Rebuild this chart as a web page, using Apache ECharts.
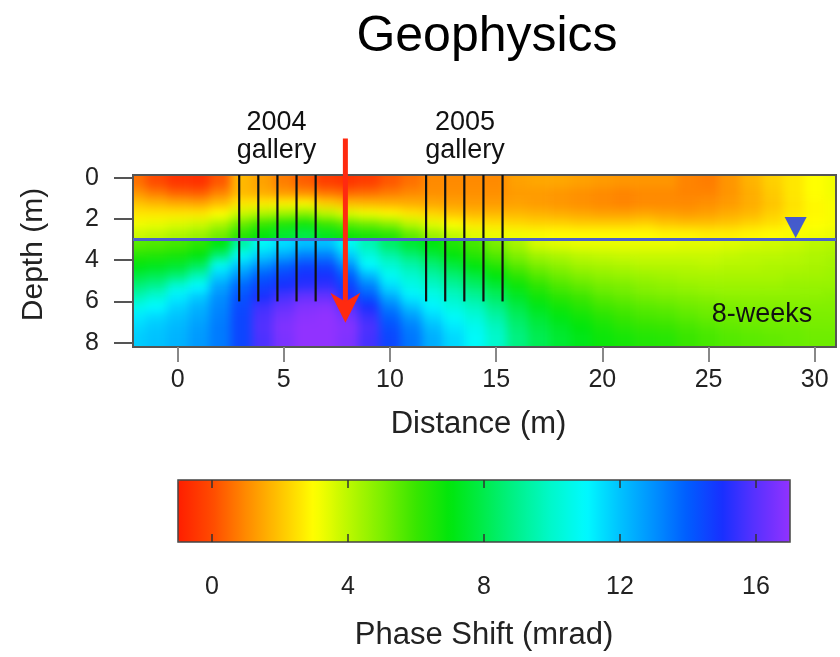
<!DOCTYPE html>
<html>
<head>
<meta charset="utf-8">
<script src="https://cdn.jsdelivr.net/npm/echarts@6.0.0/dist/echarts.min.js"></script>
<style>
html,body{margin:0;padding:0;background:#fff;}
#wrap{position:relative;width:840px;height:657px;background:#fff;overflow:hidden;}
.clip{position:absolute;overflow:hidden;}
.heat{position:absolute;filter:blur(5px);}
#main{position:absolute;left:0;top:0;width:840px;height:657px;}
</style>
</head>
<body>
<div id="wrap">
  <div class="clip" id="clipTop"><div class="heat" id="heatTop"></div></div>
  <div class="clip" id="clipBot"><div class="heat" id="heatBot"></div></div>
  <div id="main"></div>
</div>
<script>
// ---------------- data ----------------
const distance = [-2,-1,0,1,2,3,4,5,6,7,8,9,10,11,12,13,14,15,16,17,18,19,20,21,22,23,24,25,26,27,28,29,30,31];
const depthRows = [0.25,0.75,1.25,1.75,2.25,2.75,3.25,3.75,4.25,4.75,5.25,5.75,6.25,6.75,7.25,7.75];

const ps_0_25 = [0.6,0.0,-0.5,-0.6,0.2,1.8,1.4,0.8,0.3,-0.3,-0.5,-0.3,0.2,0.6,1.0,1.0,1.0,1.0,1.4,1.5,1.5,1.4,1.3,1.2,1.2,1.2,0.9,0.8,1.2,1.7,2.2,2.6,3.0,3.2];
const ps_0_75 = [1.2,0.8,0.4,0.3,0.9,1.8,1.6,1.3,1.1,0.7,0.5,0.6,0.8,1.0,1.1,1.1,1.1,1.1,1.3,1.3,1.2,1.1,1.0,0.9,1.0,1.0,0.9,0.9,1.2,1.6,2.1,2.6,3.0,3.2];
const ps_1_25 = [2.0,1.8,1.6,1.5,1.9,2.6,2.7,2.8,2.9,2.2,1.9,1.8,1.7,1.6,1.5,1.4,1.3,1.3,1.4,1.3,1.2,1.1,1.0,0.9,1.0,1.0,1.0,1.1,1.3,1.6,2.0,2.5,2.9,3.1];
const ps_1_75 = [2.6,2.6,2.6,2.6,3.0,3.8,4.2,4.5,4.8,4.0,3.5,3.2,2.9,2.6,2.3,2.0,1.8,1.8,1.8,1.7,1.6,1.5,1.4,1.4,1.5,1.4,1.3,1.4,1.6,1.8,2.2,2.6,2.9,3.1];
const ps_2_25 = [3.2,3.3,3.5,3.7,4.2,5.3,6.0,6.5,6.8,6.0,5.5,5.2,4.8,4.0,3.4,3.0,2.6,2.5,2.4,2.3,2.3,2.2,2.2,2.2,2.3,2.1,2.0,2.0,2.1,2.3,2.5,2.8,3.0,3.1];
const ps_2_75 = [3.8,4.0,4.3,4.6,5.2,6.3,7.0,7.6,8.0,7.3,6.8,6.6,6.4,5.5,4.6,4.0,3.5,3.3,3.2,3.1,3.0,3.0,3.0,3.0,3.0,2.9,2.9,2.8,2.8,2.9,3.0,3.1,3.2,3.3];
const ps_3_25 = [5.5,5.6,5.8,6.2,7.0,9.3,10.8,11.5,12.0,12.0,10.8,9.6,8.4,7.6,7.0,6.4,5.8,5.0,4.3,3.6,3.4,3.3,3.3,3.3,3.3,3.3,3.4,3.4,3.5,3.6,3.7,3.8,4.0,4.1];
const ps_3_75 = [6.3,6.4,6.6,7.0,8.6,10.8,11.8,12.5,13.3,13.3,11.8,10.4,9.4,8.6,7.8,7.0,6.3,5.6,4.9,4.4,4.2,4.0,3.9,3.8,3.8,3.8,3.8,3.8,3.9,4.0,4.0,4.1,4.2,4.3];
const ps_4_25 = [7.0,7.2,7.5,8.2,10.8,12.0,13.0,13.8,14.5,14.4,13.0,11.0,10.2,9.5,8.7,7.8,7.0,6.3,5.5,5.0,4.7,4.4,4.3,4.2,4.1,4.1,4.1,4.0,4.1,4.1,4.2,4.2,4.3,4.4];
const ps_4_75 = [7.8,8.1,8.6,9.7,11.8,13.0,14.0,14.6,15.0,15.0,14.0,12.2,10.8,10.1,9.4,8.6,7.8,7.0,6.2,5.6,5.2,4.9,4.7,4.6,4.5,4.4,4.3,4.3,4.3,4.3,4.3,4.4,4.4,4.5];
const ps_5_25 = [8.7,9.1,10.3,11.0,12.6,13.8,14.6,15.0,15.3,15.4,14.6,13.3,11.5,10.6,10.0,9.3,8.5,7.7,6.8,6.2,5.7,5.4,5.1,5.0,4.8,4.7,4.6,4.5,4.5,4.5,4.5,4.6,4.6,4.6];
const ps_5_75 = [9.6,10.2,11.2,11.8,13.0,14.2,15.0,15.7,16.2,16.2,15.1,14.1,12.4,11.2,10.6,9.9,9.2,8.3,7.4,6.7,6.2,5.9,5.5,5.3,5.1,5.0,4.9,4.8,4.7,4.7,4.7,4.7,4.7,4.8];
const ps_6_25 = [10.6,11.0,11.7,12.3,13.2,14.4,15.6,16.2,16.7,16.8,16.0,15.0,13.3,12.0,11.1,10.4,9.8,8.9,7.9,7.2,6.7,6.3,5.9,5.7,5.5,5.4,5.2,5.1,5.0,4.9,4.9,4.9,4.9,4.9];
const ps_6_75 = [11.3,11.6,12.0,12.5,13.3,14.5,15.8,16.5,16.9,17.0,16.5,15.5,13.9,12.8,11.6,10.9,10.3,9.4,8.3,7.6,7.1,6.7,6.3,6.0,5.8,5.7,5.5,5.3,5.2,5.1,5.1,5.0,5.0,5.0];
const ps_7_25 = [11.6,11.9,12.2,12.7,13.4,14.5,15.9,16.7,17.0,17.0,16.8,15.8,14.3,13.3,12.1,11.3,10.7,9.8,8.6,7.9,7.4,7.0,6.6,6.3,6.1,6.0,5.8,5.6,5.4,5.3,5.2,5.2,5.1,5.1];
const ps_7_75 = [11.8,12.0,12.3,12.8,13.4,14.5,15.8,16.6,17.0,17.0,16.7,15.7,14.5,13.5,12.4,11.6,10.9,10.0,8.8,8.1,7.6,7.2,6.8,6.6,6.4,6.3,6.0,5.8,5.6,5.5,5.4,5.3,5.2,5.2];
const phaseRows = [ps_0_25,ps_0_75,ps_1_25,ps_1_75,ps_2_25,ps_2_75,ps_3_25,ps_3_75,ps_4_25,ps_4_75,ps_5_25,ps_5_75,ps_6_25,ps_6_75,ps_7_25,ps_7_75];

const waterTableDepth = 3.0;
const gallery2004X = [2.9,3.8,4.7,5.6,6.5];
const gallery2005X = [11.7,12.6,13.5,14.4,15.3];
const galleryDepth = [-0.13, 6.0];      // top, bottom
const arrowX = 7.9;
const arrowDepth = [-1.9, 7.03];          // start (above plot), tip
const waterMarker = [29.1, 2.42];

const xTicks = [0,5,10,15,20,25,30];
const yTicks = [0,2,4,6,8];
const colorbarTicks = [0,4,8,12,16];
const colorRange = [-1, 17];

// ---------------- styling / geometry ----------------
const FONT = "'Liberation Sans', Arial, Helvetica, sans-serif";
const COLORS = ['#ff1e00','#ff4a00','#ff8a00','#ffc400','#ffff00','#bcf800','#7cef00','#38e600','#00e60c','#00ec4c','#00f28e','#00f8cc','#00faff','#00c2ff','#0090ff','#005cff','#1830ff','#5a31ff','#9132ff'];
const G = {left:133, top:175, width:703, height:172};
const X_MIN = -2.1, X_MAX = 31, Y_MIN = -0.13, Y_MAX = 8.21;
const PAD = 40;
const splitY = Math.round(G.top + (waterTableDepth - Y_MIN) / (Y_MAX - Y_MIN) * G.height);

function place(el, l, t, w, h){ el.style.left=l+'px'; el.style.top=t+'px'; el.style.width=w+'px'; el.style.height=h+'px'; }
place(document.getElementById('clipTop'), G.left, G.top, G.width, splitY - G.top);
place(document.getElementById('clipBot'), G.left, splitY, G.width, G.top + G.height - splitY);
place(document.getElementById('heatTop'), -PAD, -PAD, G.width + 2*PAD, G.height + 2*PAD);
place(document.getElementById('heatBot'), -PAD, -PAD - (splitY - G.top), G.width + 2*PAD, G.height + 2*PAD);

function heatLayer(id, rowFrom, rowTo){
  const chart = echarts.init(document.getElementById(id), null, {renderer:'canvas'});
  const data = [];
  for (let r = rowFrom; r < rowTo; r++) {
    for (let c = 0; c < distance.length; c++) data.push([distance[c], depthRows[r], phaseRows[r][c], c, r]);
  }
  const lastC = distance.length - 1;
  chart.setOption({
    animation:false, backgroundColor:'transparent',
    grid:{left:PAD, top:PAD, width:G.width, height:G.height, show:false, containLabel:false, outerBoundsMode:'none'},
    xAxis:{type:'value', min:X_MIN, max:X_MAX, show:false},
    yAxis:{type:'value', min:Y_MIN, max:Y_MAX, inverse:true, show:false},
    visualMap:{show:false, type:'continuous', min:colorRange[0], max:colorRange[1], dimension:2, inRange:{color:COLORS}},
    series:[{
      type:'custom', clip:false, data:data, encode:{x:0, y:1},
      renderItem:function(params, api){
        const x = api.value(0), d = api.value(1), c = api.value(3), r = api.value(4);
        const x0 = c === 0 ? x - 3 : x - 0.5;
        const x1 = c === lastC ? x + 3 : x + 0.5;
        const d0 = r === rowFrom ? d - 2.5 : d - 0.25;
        const d1 = r === rowTo - 1 ? d + 2.5 : d + 0.25;
        const p0 = api.coord([x0, d0]), p1 = api.coord([x1, d1]);
        return {type:'rect', shape:{x:Math.min(p0[0],p1[0]), y:Math.min(p0[1],p1[1]),
          width:Math.abs(p1[0]-p0[0]) + 0.6, height:Math.abs(p1[1]-p0[1]) + 0.6},
          style:{fill:api.visual('color')}};
      }
    }]
  });
}
const splitRow = depthRows.findIndex(d => d > waterTableDepth);
heatLayer('heatTop', 0, splitRow);
heatLayer('heatBot', splitRow, depthRows.length);

// ---------------- overlay: axes, annotations, colour bar ----------------
const main = echarts.init(document.getElementById('main'), null, {renderer:'canvas'});
const galleryData = gallery2004X.concat(gallery2005X).map(x => [x, galleryDepth[0], galleryDepth[1]]);

main.setOption({
  animation:false,
  backgroundColor:'transparent',
  textStyle:{fontFamily:FONT},
  title:{text:'Geophysics', left:487, top:37, textAlign:'center', textVerticalAlign:'middle', padding:0,
    textStyle:{fontSize:50, fontWeight:'normal', color:'#000', fontFamily:FONT}},
  grid:[
    {left:G.left, top:G.top, width:G.width, height:G.height, show:true, borderColor:'#555', borderWidth:2,
      backgroundColor:'transparent', containLabel:false, outerBoundsMode:'none'},
    {left:178, top:480, width:612, height:62, show:true, borderColor:'#444', borderWidth:1.5, z:10,
      backgroundColor:'transparent', containLabel:false, outerBoundsMode:'none'}
  ],
  xAxis:[
    {gridIndex:0, type:'value', min:X_MIN, max:X_MAX, position:'bottom',
      axisLine:{show:false, onZero:false}, splitLine:{show:false},
      axisTick:{show:true, inside:false, length:15, customValues:xTicks, lineStyle:{color:'#888', width:2}},
      axisLabel:{customValues:xTicks, margin:21, fontSize:25, color:'#222', fontFamily:FONT},
      name:'Distance (m)', nameLocation:'middle', nameGap:62,
      nameTextStyle:{fontSize:31, color:'#222', fontFamily:FONT, padding:[0,12,0,0]}},
    {gridIndex:1, type:'value', min:colorRange[0], max:colorRange[1], position:'bottom', z:10,
      axisLine:{show:false, onZero:false}, splitLine:{show:false},
      axisTick:{show:true, inside:true, length:8, customValues:colorbarTicks, lineStyle:{color:'#333', width:1.5}},
      axisLabel:{customValues:colorbarTicks, margin:33, fontSize:25, color:'#222', fontFamily:FONT},
      name:'Phase Shift (mrad)', nameLocation:'middle', nameGap:78,
      nameTextStyle:{fontSize:31, color:'#222', fontFamily:FONT}},
    {gridIndex:1, type:'value', min:colorRange[0], max:colorRange[1], position:'top', z:10,
      axisLine:{show:false, onZero:false}, splitLine:{show:false},
      axisTick:{show:true, inside:true, length:8, customValues:colorbarTicks, lineStyle:{color:'#333', width:1.5}},
      axisLabel:{show:false}}
  ],
  yAxis:[
    {gridIndex:0, type:'value', min:Y_MIN, max:Y_MAX, inverse:true, position:'left',
      axisLine:{show:false, onZero:false}, splitLine:{show:false},
      axisTick:{show:true, inside:false, length:19, customValues:yTicks, lineStyle:{color:'#555', width:2}},
      axisLabel:{customValues:yTicks, margin:34, fontSize:25, color:'#222', fontFamily:FONT},
      name:'Depth (m)', nameLocation:'middle', nameGap:84, nameRotate:90,
      nameTextStyle:{fontSize:30, color:'#222', fontFamily:FONT, padding:[0,0,0,13]}},
    {gridIndex:1, type:'value', min:0, max:1, show:false}
  ],
  visualMap:{type:'continuous', show:true, seriesIndex:[], min:colorRange[0], max:colorRange[1],
    orient:'horizontal', left:178, top:480, itemWidth:62, itemHeight:612, calculable:false,
    hoverLink:false, padding:0, inRange:{color:COLORS}},
  graphic:[
    {type:'text', x:276.5, y:137, style:{text:'2004\ngallery', font:'27px '+FONT, fill:'#111', align:'center', verticalAlign:'middle', lineHeight:28}},
    {type:'text', x:465, y:137, style:{text:'2005\ngallery', font:'27px '+FONT, fill:'#111', align:'center', verticalAlign:'middle', lineHeight:28}},
    {type:'text', x:762, y:315, style:{text:'8-weeks', font:'27px '+FONT, fill:'#111', align:'center', verticalAlign:'middle'}}
  ],
  series:[
    {type:'custom', name:'galleries', xAxisIndex:0, yAxisIndex:0, clip:false, data:galleryData, encode:{x:0, y:[1,2]},
      renderItem:function(params, api){
        const a = api.coord([api.value(0), api.value(1)]), b = api.coord([api.value(0), api.value(2)]);
        return {type:'line', shape:{x1:a[0], y1:a[1], x2:b[0], y2:b[1]}, style:{stroke:'#111', lineWidth:2.2}};
      }},
    {type:'custom', name:'water table', xAxisIndex:0, yAxisIndex:0, data:[[X_MIN, waterTableDepth]], encode:{x:0, y:1},
      renderItem:function(params, api){
        const y = api.coord([api.value(0), api.value(1)])[1];
        const cs = params.coordSys;
        return {type:'line', shape:{x1:cs.x, y1:y, x2:cs.x + cs.width, y2:y}, style:{stroke:'#4c62c9', lineWidth:3}};
      }},
    {type:'scatter', name:'water level', xAxisIndex:0, yAxisIndex:0, data:[waterMarker], symbol:'triangle',
      symbolRotate:180, symbolSize:[22,21], itemStyle:{color:'#1535ff'}, silent:true},
    {type:'custom', name:'arrow', xAxisIndex:0, yAxisIndex:0, clip:false, data:[[arrowX, arrowDepth[0], arrowDepth[1]]], encode:{x:0, y:[1,2]},
      renderItem:function(params, api){
        const top = api.coord([api.value(0), api.value(1)]);
        const tip = api.coord([api.value(0), api.value(2)]);
        const headH = 30, headW = 15, notch = 21, col = '#ff2a10';
        return {type:'group', children:[
          {type:'line', shape:{x1:top[0], y1:top[1], x2:tip[0], y2:tip[1]-notch+2}, style:{stroke:col, lineWidth:5}},
          {type:'polygon', shape:{points:[[tip[0],tip[1]],[tip[0]+headW,tip[1]-headH],[tip[0],tip[1]-notch],[tip[0]-headW,tip[1]-headH]]}, style:{fill:col}}
        ]};
      }}
  ]
});
</script>
</body>
</html>
